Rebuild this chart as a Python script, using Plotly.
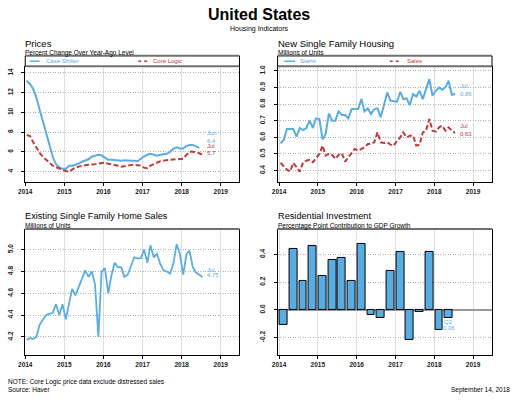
import plotly.graph_objects as go
import pandas as pd

W, H = 515, 407
BLUE = "#5AADE2"
RED = "#C0393B"
FONT = "Liberation Sans, Arial, sans-serif"

# ---------------- data ----------------
case_shiller = [13.2, 12.85, 12.4, 11.5, 10.3, 9.1, 7.9, 6.7, 5.5, 4.75, 4.4, 4.3,
                4.3, 4.6, 4.6, 4.7, 4.8, 5.0, 5.1, 5.25, 5.5, 5.6, 5.7, 5.65,
                5.4, 5.2, 5.2, 5.15, 5.1, 5.1, 5.15, 5.1, 5.1, 5.1, 5.05, 5.3,
                5.55, 5.7, 5.8, 5.7, 5.6, 5.7, 5.75, 5.8, 6.0, 6.3, 6.45, 6.35,
                6.35, 6.6, 6.7, 6.7, 6.55, 6.4]
core_logic = [7.7, 7.6, 7.0, 6.4, 5.9, 5.5, 5.2, 4.9, 4.6, 4.45, 4.35, 4.2,
              4.05, 4.0, 4.2, 4.4, 4.5, 4.6, 4.65, 4.7, 4.7, 4.75, 4.8, 4.85,
              4.9, 4.8, 4.75, 4.7, 4.6, 4.5, 4.55, 4.65, 4.7, 4.7, 4.65, 4.6,
              4.4, 4.35, 4.6, 4.72, 4.9, 5.05, 5.12, 5.18, 5.2, 5.22, 5.26, 5.3,
              5.3, 5.7, 6.0, 6.0, 5.95, 5.85, 5.7]
starts = [0.564, 0.586, 0.65, 0.65, 0.65, 0.604, 0.656, 0.644, 0.656, 0.70, 0.656, 0.714,
          0.71, 0.586, 0.62, 0.744, 0.70, 0.70, 0.756, 0.734, 0.734, 0.714, 0.77, 0.77,
          0.77, 0.83, 0.756, 0.774, 0.74, 0.77, 0.774, 0.72, 0.79, 0.87, 0.82, 0.816,
          0.814, 0.874, 0.83, 0.834, 0.794, 0.86, 0.846, 0.88, 0.83, 0.89, 0.95, 0.85,
          0.88, 0.90, 0.886, 0.90, 0.94, 0.856, 0.86]
sales = [0.446, 0.426, 0.406, 0.394, 0.446, 0.42, 0.394, 0.45, 0.46, 0.464, 0.45, 0.474,
         0.50, 0.55, 0.49, 0.50, 0.494, 0.47, 0.494, 0.504, 0.454, 0.48, 0.504, 0.53,
         0.52, 0.53, 0.54, 0.56, 0.56, 0.57, 0.63, 0.57, 0.566, 0.57, 0.556, 0.55,
         0.58, 0.60, 0.63, 0.60, 0.61, 0.61, 0.55, 0.555, 0.63, 0.64, 0.71, 0.64,
         0.634, 0.66, 0.67, 0.64, 0.66, 0.64, 0.627]
existing = [4.17, 4.19, 4.18, 4.20, 4.31, 4.35, 4.40, 4.41, 4.42, 4.50, 4.40, 4.50,
            4.36, 4.51, 4.64, 4.58, 4.65, 4.73, 4.81, 4.75, 4.80, 4.68, 4.20, 4.80,
            4.83, 4.60, 4.76, 4.88, 4.84, 4.84, 4.75, 4.77, 4.86, 4.93, 4.92, 4.92,
            5.00, 4.88, 5.04, 4.93, 4.96, 4.87, 4.81, 4.80, 4.78, 4.87, 5.05, 4.96,
            4.77, 4.96, 4.99, 4.84, 4.79, 4.77, 4.75]
res_inv = [-0.11, 0.44, 0.205, 0.46, 0.243, 0.36, 0.373, 0.205, 0.475, -0.04, -0.06, 0.284,
           0.417, -0.22, -0.017, 0.417, -0.144, -0.06]

year_ticks = ["2014-01-01", "2015-01-01", "2016-01-01", "2017-01-01", "2018-01-01", "2019-01-01"]
year_labels = ["2014", "2015", "2016", "2017", "2018", "2019"]
price_ticks = [4, 6, 8, 10, 12, 14]
units_ticks = [0.4, 0.5, 0.6, 0.7, 0.8, 0.9, 1.0]
existing_ticks = [4.2, 4.4, 4.6, 4.8, 5.0]
resinv_ticks = [-0.2, 0.0, 0.2, 0.4]

def months(n):
    return pd.date_range("2014-01-01", periods=n, freq="MS") + pd.Timedelta(days=14)

quarters = pd.date_range("2014-01-01", periods=len(res_inv), freq="QS") + pd.Timedelta(days=45)

# ---------------- geometry helpers ----------------
def fx(px):
    return px / W

def fy(py):
    return 1 - py / H

L_LEFT, L_RIGHT = 18.5, 235.7
R_LEFT, R_RIGHT = 274.3, 491.7
T_TOP, T_BOT, BAND_TOP = 65.5, 181.3, 55.0
B_TOP, B_BOT = 228.5, 354.7

fig = go.Figure()

fig.add_trace(go.Scatter(x=months(len(case_shiller)), y=case_shiller, mode="lines",
                         line=dict(color=BLUE, width=2), xaxis="x", yaxis="y"))
fig.add_trace(go.Scatter(x=months(len(core_logic)), y=core_logic, mode="lines",
                         line=dict(color=RED, width=2, dash="5px,2.5px"), xaxis="x", yaxis="y"))
fig.add_trace(go.Scatter(x=months(len(starts)), y=starts, mode="lines",
                         line=dict(color=BLUE, width=2), xaxis="x2", yaxis="y2"))
fig.add_trace(go.Scatter(x=months(len(sales)), y=sales, mode="lines",
                         line=dict(color=RED, width=2, dash="5px,2.5px"), xaxis="x2", yaxis="y2"))
fig.add_trace(go.Scatter(x=months(len(existing)), y=existing, mode="lines",
                         line=dict(color=BLUE, width=1.8), xaxis="x3", yaxis="y3"))
fig.add_trace(go.Bar(x=quarters, y=res_inv, width=74 * 86400000,
                     marker=dict(color=BLUE, line=dict(color="black", width=1)),
                     xaxis="x4", yaxis="y4"))

tickfont = dict(family=FONT, size=6.5, color="#222", weight="bold")

def xax(domain, rng, anchor):
    return dict(domain=domain, range=rng, type="date", anchor=anchor,
                tickmode="array", tickvals=year_ticks, ticktext=year_labels,
                tickfont=tickfont, ticks="outside", ticklen=3, tickcolor="black",
                showgrid=True, gridcolor="#dedede", gridwidth=1,
                showline=True, linecolor="black", linewidth=1, zeroline=False)

def yax(domain, rng, ticks, texts, anchor, zero=False):
    return dict(domain=domain, range=rng, anchor=anchor,
                tickmode="array", tickvals=ticks, ticktext=texts, tickangle=-90,
                tickfont=tickfont, ticks="outside", ticklen=3, tickcolor="black",
                ticklabelstandoff=6,
                showgrid=True, gridcolor="#b0b0b0", gridwidth=1, griddash="1px,1.5px",
                showline=True, linecolor="black", linewidth=1, mirror=True,
                zeroline=zero, zerolinecolor="#9a9a9a", zerolinewidth=2)

left_dom = [fx(L_LEFT), fx(L_RIGHT)]
right_dom = [fx(R_LEFT), fx(R_RIGHT)]
top_dom = [fy(T_BOT), fy(T_TOP)]
bot_dom = [fy(B_BOT), fy(B_TOP)]

fig.update_layout(
    width=W, height=H, autosize=False,
    margin=dict(l=0, r=0, t=0, b=0),
    paper_bgcolor="white", plot_bgcolor="white",
    showlegend=False, bargap=0,
    font=dict(family=FONT, color="black"),
    xaxis=xax(left_dom, ["2014-01-01", "2019-06-25"], "y"),
    yaxis=yax(top_dom, [2.96, 14.66], price_ticks, [str(t) for t in price_ticks], "x"),
    xaxis2=xax(right_dom, ["2013-12-18", "2019-06-28"], "y2"),
    yaxis2=yax(top_dom, [0.332, 1.027], units_ticks, [f"{t:.1f}" for t in units_ticks], "x2"),
    xaxis3=xax(left_dom, ["2014-01-01", "2019-06-25"], "y3"),
    yaxis3=yax(bot_dom, [4.035, 5.19], existing_ticks, [f"{t:.1f}" for t in existing_ticks], "x3"),
    xaxis4=xax(right_dom, ["2013-12-18", "2019-06-28"], "y4"),
    yaxis4=yax(bot_dom, [-0.325, 0.584], resinv_ticks, [f"{t:.1f}" for t in resinv_ticks], "x4", zero=True),
)

shapes = []
GRAY = "#707070"
def hline(x0, x1, py, color=GRAY, width=2, dash="solid"):
    shapes.append(dict(type="line", xref="paper", yref="paper", x0=fx(x0), x1=fx(x1),
                       y0=fy(py), y1=fy(py), line=dict(color=color, width=width, dash=dash)))
def vline(px, y0, y1):
    shapes.append(dict(type="line", xref="paper", yref="paper", x0=fx(px), x1=fx(px),
                       y0=fy(y0), y1=fy(y1), line=dict(color="black", width=1)))

for lft, rgt in [(L_LEFT, L_RIGHT), (R_LEFT, R_RIGHT)]:
    hline(lft, rgt, BAND_TOP)
    hline(lft, rgt, T_TOP)
    vline(lft, BAND_TOP, T_TOP)
    vline(rgt, BAND_TOP, T_TOP)
    hline(lft, rgt, B_TOP)

# legend samples
hline(23, 33, 60.3, BLUE, 1.5)
hline(133, 143, 60.3, RED, 1.5, "dot")
hline(281, 292, 60.3, BLUE, 1.5)
hline(388, 398, 60.3, RED, 1.5, "dot")
fig.update_layout(shapes=shapes)

ann = []
def ptext(text, px, py, size, color="black", xanchor="left", bold=False):
    ann.append(dict(text=text, x=fx(px), y=fy(py), xref="paper", yref="paper",
                    xanchor=xanchor, yanchor="middle", showarrow=False, borderpad=0,
                    font=dict(family=FONT, size=size, color=color,
                              weight="bold" if bold else "normal")))

def dtext(text, x, y, xref, yref, color, xanchor="left"):
    ann.append(dict(text=text, x=x, y=y, xref=xref, yref=yref, xanchor=xanchor,
                    yanchor="middle", showarrow=False, borderpad=0,
                    font=dict(family=FONT, size=6, color=color)))

ptext("United States", 255, 13.5, 16, xanchor="center", bold=True)
ptext("Housing Indicators", 255, 28, 7, xanchor="center")

ptext("Prices", 17.5, 42.5, 9.5)
ptext("Percent Change Over Year-Ago Level", 17.5, 52, 6.5)
ptext("New Single Family Housing", 273.5, 42.5, 9.5)
ptext("Millions of Units", 273.5, 52, 6.5)
ptext("Existing Single Family Home Sales", 17.5, 215.5, 9.2)
ptext("Millions of Units", 17.5, 225.3, 6.5)
ptext("Residential Investment", 273.5, 215.5, 9.2)
ptext("Percentage Point Contribution to GDP Growth", 273.5, 225.3, 6.5)

ptext("Case-Shiller", 39, 60.3, 6, BLUE)
ptext("Core Logic", 147, 60.3, 6, RED)
ptext("Starts", 296, 60.3, 6, BLUE)
ptext("Sales", 404, 60.3, 6, RED)

ptext("NOTE: Core Logic price data exclude distressed sales", 0, 381.5, 6.5)
ptext("Source: Haver", 0, 389, 6.5)
ptext("September 14, 2018", 511, 390, 6.5, xanchor="right")

dtext("Jun", "2018-08-18", 7.87, "x", "y", BLUE)
dtext(f"{case_shiller[-1]:.1f}", "2018-08-18", 7.06, "x", "y", BLUE)
dtext("Jul", "2018-08-18", 6.56, "x", "y", RED)
dtext(f"{core_logic[-1]:.1f}", "2018-08-18", 5.89, "x", "y", RED)
dtext("Jul", "2018-08-20", 0.906, "x2", "y2", BLUE)
dtext(f"{starts[-1]:.2f}", "2018-08-20", 0.86, "x2", "y2", BLUE)
dtext("Jul", "2018-08-20", 0.67, "x2", "y2", RED)
dtext(f"{sales[-1]:.2f}", "2018-08-20", 0.622, "x2", "y2", RED)
dtext("Jul", "2018-08-15", 4.817, "x3", "y3", BLUE)
dtext(f"{existing[-1]:.2f}", "2018-08-15", 4.764, "x3", "y3", BLUE)
dtext("Q2", "2018-05-12", -0.09, "x4", "y4", BLUE, "center")
dtext(f"{res_inv[-1]:.2f}", "2018-05-12", -0.13, "x4", "y4", BLUE, "center")
fig.update_layout(annotations=ann)

fig.write_html("out.html", config={"displayModeBar": False},
               post_script="document.body.style.margin='0';")
